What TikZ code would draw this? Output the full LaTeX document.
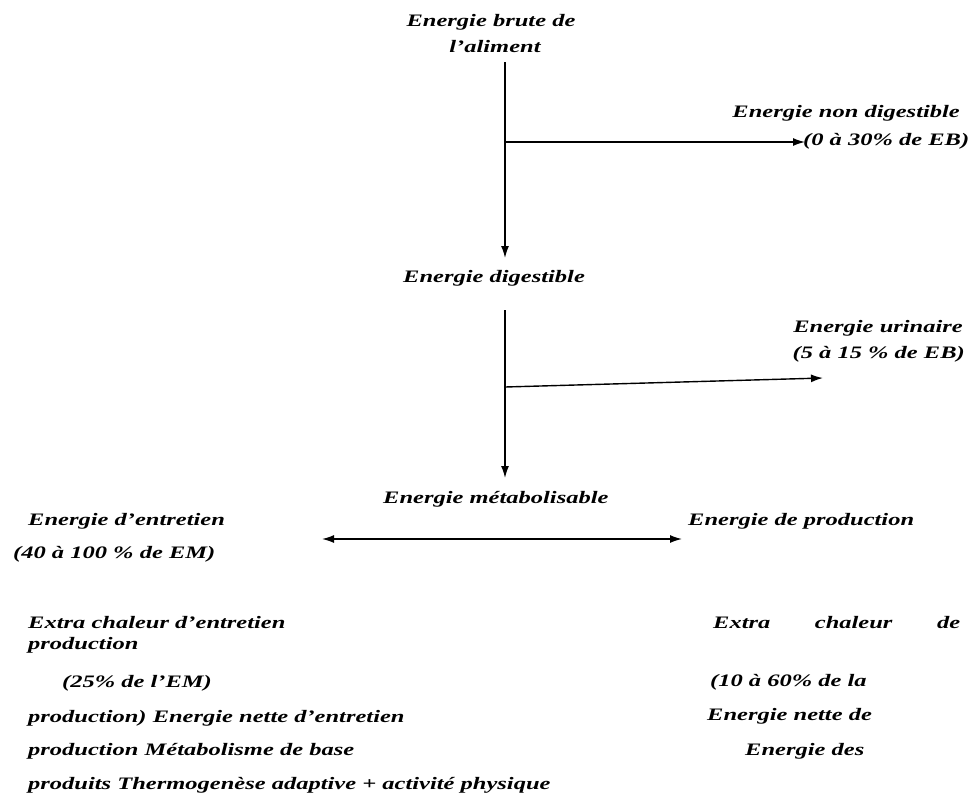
\documentclass[tikz,border=0pt]{standalone}
\usepackage{fontspec}
\setmainfont{Liberation Serif}
% wide bold italic face used for every label
\newfontfamily\labfont{Liberation Serif}[FakeStretch=1.4]
\usetikzlibrary{arrows.meta}

\tikzset{
  lab/.style={inner sep=0pt, text=black,
    font=\labfont\bfseries\itshape\fontsize{17.5}{20}\selectfont},
  tip/.style={},
  flow/.style={line width=1.4pt, -{Latex[length=12pt,width=8pt]}},
  twoway/.style={line width=1.4pt, {Latex[length=12pt,width=8pt]}-{Latex[length=12pt,width=8pt]}},
}

\begin{document}
\begin{tikzpicture}[x=1pt,y=-1pt]
  \useasboundingbox (0,0) rectangle (970,796);

  % top of the energy cascade
  \node[lab, anchor=base] (brute1) at (491,26) {Energie brute de};
  \node[lab, anchor=base] (brute2) at (495,52) {l’aliment};

  \node[lab, anchor=base east] (nondig) at (960,117) {Energie non digestible};
  \node[lab, anchor=base west] (nondigp) at (803,145) {(0 à 30\% de EB)};

  \node[lab, anchor=base west] (dig) at (403,282) {Energie digestible};

  \node[lab, anchor=base east] (urin) at (963,332) {Energie urinaire};
  \node[lab, anchor=base east] (urinp) at (965,358) {(5 à 15 \% de EB)};

  \node[lab, anchor=base west] (metab) at (383,503) {Energie métabolisable};

  \node[lab, anchor=base west] (entr) at (28,525) {Energie d’entretien};
  \node[lab, anchor=base west] (entrp) at (13,558) {(40 à 100 \% de EM)};
  \node[lab, anchor=base west] (prod) at (688,525) {Energie de production};

  % lower left block
  \node[lab, anchor=base west] (l1) at (28,628) {Extra chaleur d’entretien};
  \node[lab, anchor=base west] (l2) at (28,649) {production};
  \node[lab, anchor=base west] (l3) at (62,687) {(25\% de l’EM)};
  \node[lab, anchor=base west] (l4) at (28,722) {production) Energie nette d’entretien};
  \node[lab, anchor=base west] (l5) at (28,755) {production Métabolisme de base};
  \node[lab, anchor=base west] (l6) at (28,789) {produits Thermogenèse adaptive + activité physique};

  % lower right block
  \node[lab, anchor=base west] (r1) at (713,628) {\makebox[247pt][s]{Extra chaleur de}};
  \node[lab, anchor=base west] (r2) at (710,686) {(10 à 60\% de la};
  \node[lab, anchor=base west] (r3) at (707,720) {Energie nette de};
  \node[lab, anchor=base west] (r4) at (745,755) {Energie des};

  % connector end points
  \coordinate (v1s) at (505,62);
  \coordinate (v1e) at (505,258);
  \coordinate (b1s) at (505,142);
  \coordinate (b1e) at (805,142);
  \coordinate (v2s) at (505,310);
  \coordinate (v2e) at (505,478);
  \coordinate (b2s) at (505,387);
  \coordinate (b2e) at (823,378);
  \coordinate (hl) at (322,539);
  \coordinate (hr) at (682,539);

  \draw[flow] (v1s) -- (v1e);
  \draw[flow] (b1s) -- (b1e);
  \draw[flow] (v2s) -- (v2e);
  \draw[flow] (b2s) -- (b2e);
  \draw[twoway] (hl) -- (hr);
\end{tikzpicture}
\end{document}
